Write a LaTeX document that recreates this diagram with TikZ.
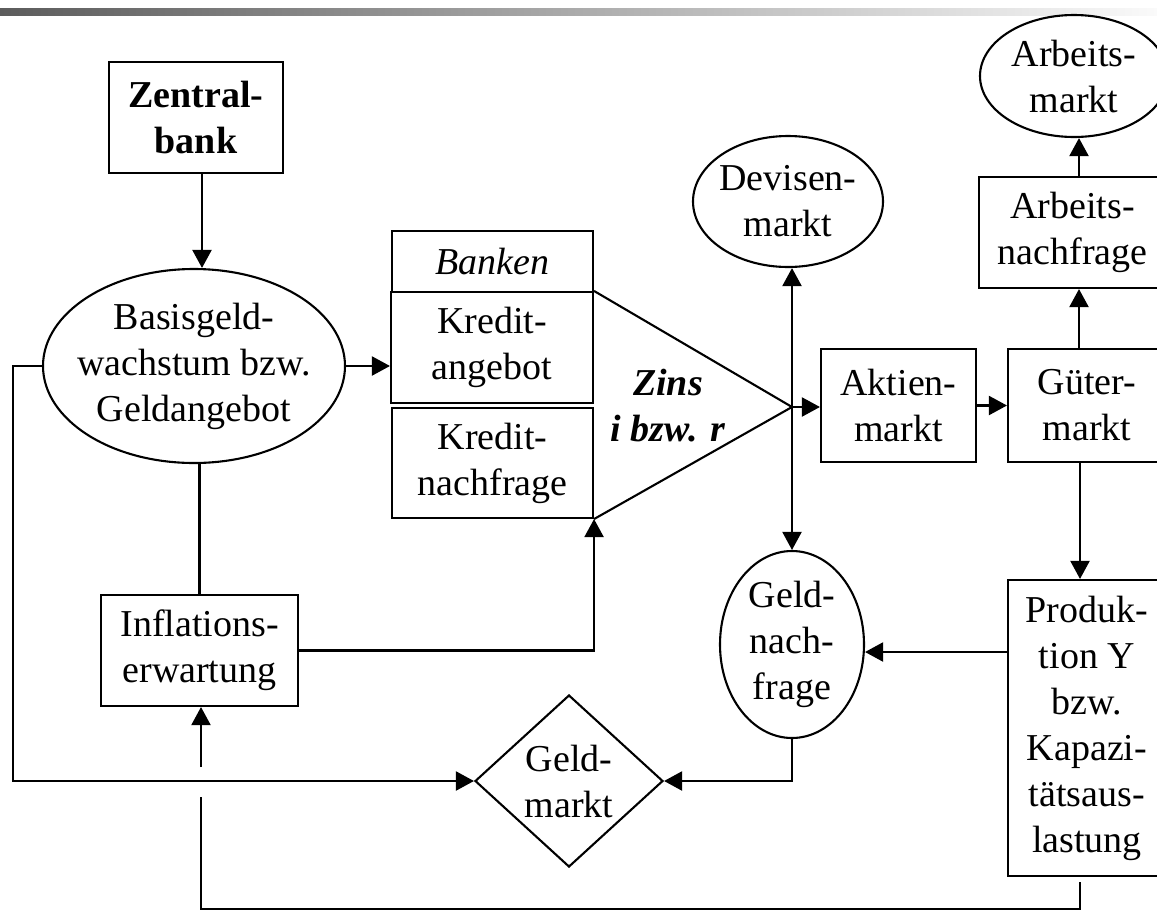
\documentclass[tikz,border=0pt]{standalone}
\usepackage{fontspec}
\setmainfont{Liberation Serif}
\usetikzlibrary{shapes.geometric,arrows.meta}
\definecolor{barleft}{RGB}{92,92,92}
\definecolor{barright}{RGB}{250,250,250}
\begin{document}
\begin{tikzpicture}[x=1pt,y=-1pt,
  txt/.style={font=\fontsize{38}{46}\selectfont, align=center, inner sep=0pt},
  shapeline/.style={draw, line width=2.1pt, inner sep=0pt},
  rbox/.style={shapeline, rectangle, txt},
  oval/.style={shapeline, ellipse},
  rhomb/.style={shapeline, diamond},
  conn/.style={line width=2.1pt},
  arr/.style={conn, -{Triangle[length=18pt,width=19pt]}},
  biarr/.style={conn, {Triangle[length=18pt,width=19pt]}-{Triangle[length=18pt,width=19pt]}}]

\useasboundingbox (0,0) rectangle (1157,911);
\clip (0,0) rectangle (1157,911);

% header bar
\shade[left color=barleft, right color=barright] (0,8) rectangle (1157,15);

% monetary side
\node[rbox, minimum width=174pt, minimum height=111pt] (zb) at (196,117.5)
  {\bfseries Zentral-\\\bfseries bank};
\node[oval, minimum width=302pt, minimum height=194pt] (bg) at (194,366) {};
\node[txt] (bg-t) at (bg) {Basisgeld-\\wachstum bzw.\\Geldangebot};
\node[rbox, minimum width=197pt, minimum height=111pt] (infl) at (199.5,650.5)
  {Inflations-\\erwartung};

% banks and credit market
\node[rbox, minimum width=201pt, minimum height=61pt] (banken) at (492.5,261.5) {\itshape Banken};
\node[rbox, minimum width=202pt, minimum height=111pt] (kan) at (492,347.5) {Kredit-\\angebot};
\node[rbox, minimum width=201pt, minimum height=110pt] (kna) at (492.5,463) {Kredit-\\nachfrage};
\node[txt] (zins) at (668,406) {\bfseries\itshape Zins\\\bfseries\itshape i bzw. r};
\coordinate (apex) at (792,407);

% markets
\node[oval, minimum width=190pt, minimum height=131pt] (dev) at (788,201.5) {};
\node[txt] (dev-t) at (dev) {Devisen-\\markt};
\node[oval, minimum width=144pt, minimum height=187pt] (gn) at (792,644.5) {};
\node[txt] (gn-t) at (gn) {Geld-\\nach-\\frage};
\node[rhomb, minimum width=188pt, minimum height=172pt] (gm) at (569,781) {};
\node[txt] (gm-t) at (gm) {Geld-\\markt};
\node[rbox, minimum width=155pt, minimum height=113pt] (akt) at (898.5,405.5) {Aktien-\\markt};
\node[rbox, minimum width=158pt, minimum height=113pt] (gut) at (1087,405.5) {Güter-\\markt};
\node[rbox, minimum width=187pt, minimum height=111pt] (an) at (1072.5,232.5) {Arbeits-\\nachfrage};
\node[oval, minimum width=188pt, minimum height=122pt] (am) at (1074,76) {};
\node[txt] (am-t) at (am) {Arbeits-\\markt};
\node[rbox, minimum width=158pt, minimum height=296pt] (prod) at (1087,728)
  {Produk-\\tion Y\\bzw.\\Kapazi-\\tätsaus-\\lastung};

% free ends of the feedback loop
\coordinate (infl-in) at (201,767);
\coordinate (loop-start) at (201,797);
\coordinate (prod-out) at (1080,882);

% connectors
\draw[arr] ([xshift=6pt]zb.south) -- ([xshift=6pt]zb.south |- bg.north);
\draw[arr] (bg.east) -- (bg.east -| kan.west);
\draw[conn] (infl.north) -- (infl.north |- bg.south);
\draw[arr] (infl-in) -- (infl-in |- infl.south);
\draw[arr] (bg.west) -- ++(-29,0) |- (gm.west);
\draw[arr] (infl.east) -| (kna.south east);
\draw[conn] (kan.north east) -- (apex) -- (kna.south east);
\draw[arr] (apex) -- (apex -| akt.west);
\draw[biarr] (gn.north |- dev.south) -- (gn.north);
\draw[arr] (akt.east) -- (gut.west);
\draw[arr] ([xshift=-8pt]gut.north) -- ([xshift=-8pt]gut.north |- an.south);
\draw[arr] ([xshift=-8pt]gut.north |- an.north) -- ([xshift=-8pt]gut.north |- am.south);
\draw[arr] ([xshift=-7pt]gut.south) -- ([xshift=-7pt]gut.south |- prod.north);
\draw[arr] ([yshift=76pt]prod.west) -- ([yshift=76pt]prod.west -| gn.east);
\draw[arr] (gn.south) |- (gm.east);
\draw[conn] (loop-start) -- ++(0,112) -| (prod-out);
\end{tikzpicture}
\end{document}
